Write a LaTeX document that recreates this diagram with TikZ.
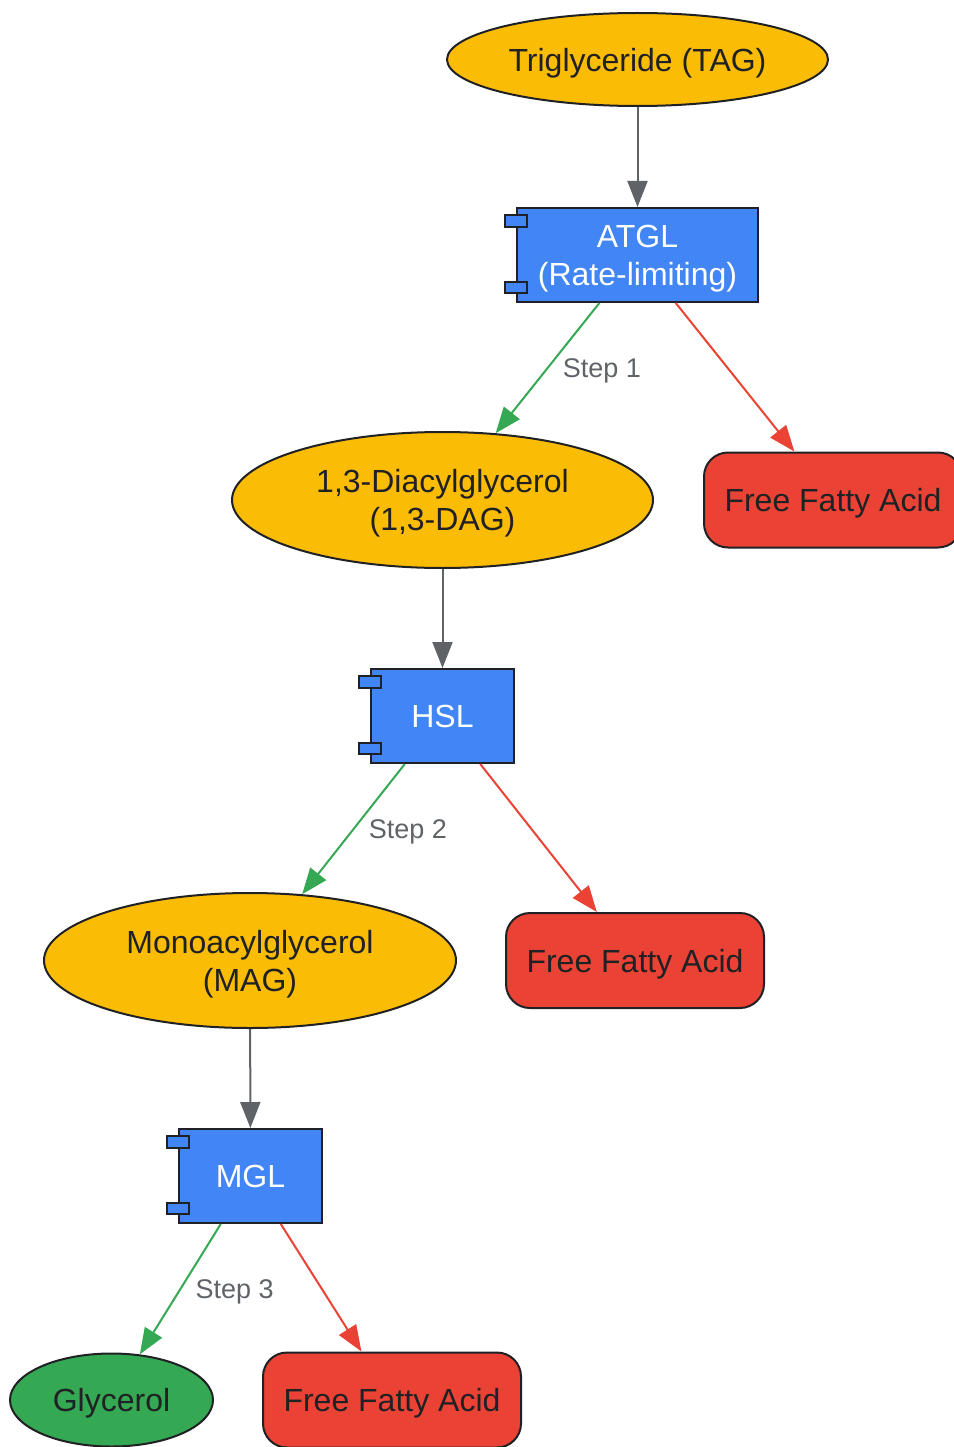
\documentclass[tikz,border=0pt]{standalone}
\usepackage{fontspec}
\setmainfont{Liberation Sans}
\usetikzlibrary{arrows.meta,shapes.geometric}

\definecolor{tagyellow}{HTML}{FBBC05}
\definecolor{enzblue}{HTML}{4285F4}
\definecolor{ffared}{HTML}{EA4335}
\definecolor{glygreen}{HTML}{34A853}
\definecolor{linegray}{HTML}{5F6368}
\definecolor{inkdark}{HTML}{202124}

\tikzset{
  lipid/.style={ellipse, draw=inkdark, line width=2pt, fill=tagyellow, text=inkdark, align=center, inner sep=0pt, text depth=0pt},
  enzyme/.style={rectangle, draw=inkdark, line width=2pt, fill=enzblue, text=white, align=center, inner sep=0pt, text depth=0pt, minimum height=94pt},
  fattyacid/.style={rectangle, rounded corners=24pt, draw=inkdark, line width=2pt, fill=ffared, text=inkdark, inner sep=0pt, text depth=0pt, minimum width=258pt, minimum height=95pt},
  flow/.style={draw=linegray, line width=2pt, -{Triangle[length=26pt,width=20pt]}},
  cleave/.style={draw=glygreen, line width=2pt, -{Triangle[length=26pt,width=20pt]}},
  release/.style={draw=ffared, line width=2pt, -{Triangle[length=26pt,width=20pt]}},
  steplabel/.style={midway, right=11pt, text=linegray, text depth=0pt, font=\fontsize{27}{32}\selectfont}
}

% the two small tabs on the left side of an enzyme box
\newcommand{\comptabs}[1]{%
  \draw[draw=inkdark, line width=2pt, fill=enzblue] ([xshift=-11pt,yshift=-8pt]#1.north west) rectangle ([xshift=11pt,yshift=-20pt]#1.north west);
  \draw[draw=inkdark, line width=2pt, fill=enzblue] ([xshift=-11pt,yshift=10pt]#1.south west) rectangle ([xshift=11pt,yshift=21pt]#1.south west);
}

\begin{document}
\begin{tikzpicture}[x=1pt, y=-1pt, font=\fontsize{32}{38}\selectfont]
  \useasboundingbox (0,0) rectangle (953,1447);

  % substrates
  \node[lipid, minimum width=381pt, minimum height=93pt] (tag) at (637.5,59.5) {Triglyceride (TAG)};
  \node[lipid, minimum width=421pt, minimum height=136pt] (dag) at (442.5,500) {1,3-Diacylglycerol\\(1,3-DAG)};
  \node[lipid, minimum width=412pt, minimum height=135pt] (mag) at (250,960.5) {Monoacylglycerol\\(MAG)};
  \node[lipid, fill=glygreen, minimum width=203pt, minimum height=93pt] (gly) at (111.5,1400) {Glycerol};

  % enzymes
  \node[enzyme, minimum width=241pt] (atgl) at (637.5,255) {ATGL\\(Rate-limiting)};
  \node[enzyme, minimum width=143pt] (hsl) at (442.5,716) {HSL};
  \node[enzyme, minimum width=143pt] (mgl) at (250.5,1176) {MGL};
  \comptabs{atgl}
  \comptabs{hsl}
  \comptabs{mgl}

  % released fatty acids
  \node[fattyacid] (ffaA) at (833,500) {Free Fatty Acid};
  \node[fattyacid] (ffaB) at (635,960.5) {Free Fatty Acid};
  \node[fattyacid] (ffaC) at (392,1400) {Free Fatty Acid};

  % edges
  \draw[flow] (tag) -- (atgl);
  \draw[cleave] (atgl) -- node[steplabel] {Step 1} (dag);
  \draw[release] (atgl) -- (ffaA);

  \draw[flow] (dag) -- (hsl);
  \draw[cleave] (hsl) -- node[steplabel] {Step 2} (mag);
  \draw[release] (hsl) -- (ffaB);

  \draw[flow] (mag) -- (mgl);
  \draw[cleave] (mgl) -- node[steplabel] {Step 3} (gly);
  \draw[release] (mgl) -- (ffaC);
\end{tikzpicture}
\end{document}
